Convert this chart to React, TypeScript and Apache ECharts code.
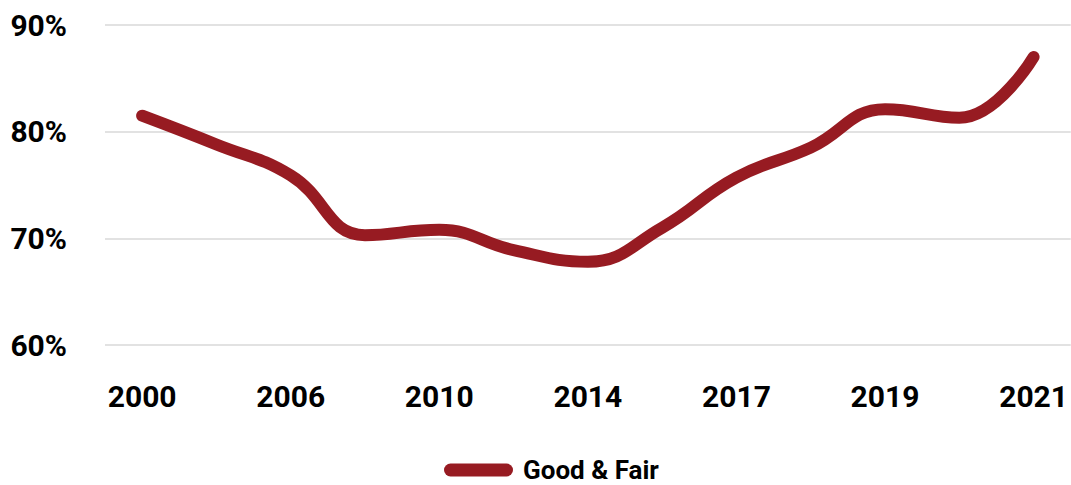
import React, { useEffect, useRef } from "react";
import * as echarts from "echarts";

const years = ["2000", "2003", "2006", "2008", "2010", "2012", "2014", "2016", "2017", "2018", "2019", "2020", "2021"];
const goodFair = [81.5, 78.8, 75.9, 70.3, 70.8, 68.9, 67.8, 71.0, 75.7, 78.5, 82.1, 81.3, 87.0];
const yTicks = { min: 60, max: 90, interval: 10 };
const seriesName = "Good & Fair";

const FONT = "Roboto, 'Liberation Sans', sans-serif";
const RED = "#971B22";

export default function App() {
  const ref = useRef<HTMLDivElement>(null);
  useEffect(() => {
    if (!ref.current) return;
    const chart = echarts.init(ref.current, null, { renderer: "svg" });
    chart.setOption({
      animation: false,
      backgroundColor: "#ffffff",
      grid: { left: 105, right: 0, top: 25, bottom: 140, containLabel: false },
      xAxis: {
        type: "category",
        data: years,
        boundaryGap: true,
        axisLine: { show: false },
        axisTick: { show: false },
        axisLabel: {
          interval: 1,
          margin: 36,
          color: "#000",
          fontFamily: FONT,
          fontWeight: "bold",
          fontSize: 30,
        },
      },
      yAxis: {
        type: "value",
        min: yTicks.min,
        max: yTicks.max,
        interval: yTicks.interval,
        axisLine: { show: false },
        axisTick: { show: false },
        splitLine: { lineStyle: { color: "#d9d9d9", width: 1.5 } },
        axisLabel: {
          formatter: "{value}%",
          margin: 38,
          color: "#000",
          fontFamily: FONT,
          fontWeight: "bold",
          fontSize: 30,
        },
      },
      legend: {
        show: true,
        left: 439,
        top: 452,
        itemWidth: 69,
        itemHeight: 13,
        icon: "path://M6.5,0 H62.5 A6.5,6.5 0 0 1 62.5,13 H6.5 A6.5,6.5 0 0 1 6.5,0 Z",
        textStyle: {
          color: "#000",
          fontFamily: FONT,
          fontWeight: "bold",
          fontSize: 26,
          padding: [0, 0, 0, 5],
        },
        data: [{ name: seriesName, itemStyle: { color: RED } }],
      },
      series: [
        {
          name: seriesName,
          type: "line",
          data: goodFair,
          smooth: 0.45,
          showSymbol: false,
          symbol: "none",
          color: RED,
          lineStyle: { color: RED, width: 12, cap: "round", join: "round" },
        },
      ],
    });
    return () => chart.dispose();
  }, []);
  return (
    <div
      ref={ref}
      style={{ position: "absolute", left: 0, top: 0, width: 1071, height: 485 }}
    />
  );
}
